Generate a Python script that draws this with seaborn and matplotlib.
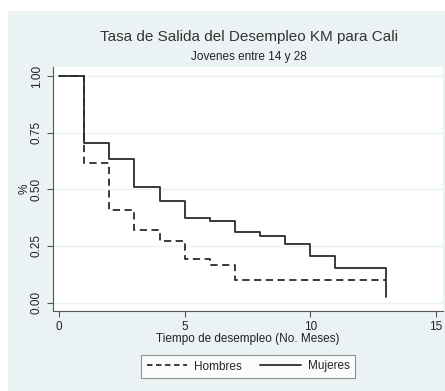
import pandas as pd
import numpy as np
import seaborn as sns
import matplotlib.pyplot as plt
from matplotlib.patches import Rectangle
from matplotlib.lines import Line2D

# Curvas Kaplan-Meier
meses_mujeres = [0, 1, 2, 3, 4, 5, 6, 7, 8, 9, 10, 11, 13]
surv_mujeres = [1.0, 0.703, 0.633, 0.509, 0.45, 0.372, 0.359, 0.31, 0.296, 0.259, 0.207, 0.154, 0.024]
meses_hombres = [0, 1, 2, 3, 4, 5, 6, 7, 13]
surv_hombres = [1.0, 0.615, 0.409, 0.321, 0.272, 0.194, 0.168, 0.101, 0.101]
grupos = ['Hombres', 'Mujeres']
x_ticks = [0, 5, 10, 15]
y_ticks = [0.0, 0.25, 0.5, 0.75, 1.0]

data = pd.concat([
    pd.DataFrame({'mes': meses_hombres, 'surv': surv_hombres, 'sexo': grupos[0]}),
    pd.DataFrame({'mes': meses_mujeres, 'surv': surv_mujeres, 'sexo': grupos[1]}),
])

sns.set_style('white')
plt.rcParams['font.family'] = ['Liberation Sans', 'DejaVu Sans']

bg = '#EAF2F3'
linea = '#2b2b2b'

fig = plt.figure(figsize=(4.45, 3.91), dpi=100)
fig.patch.set_facecolor('white')
fig.patches.append(Rectangle((8 / 445, 0), 1, (391 - 11) / 391,
                             transform=fig.transFigure, facecolor=bg,
                             edgecolor='none', zorder=-10))

ax = fig.add_axes([52.7 / 445, 80 / 391, (443 - 52.7) / 445, (311 - 67) / 391])
ax.set_facecolor('white')

sns.lineplot(data=data, x='mes', y='surv', hue='sexo', style='sexo',
             palette={'Hombres': linea, 'Mujeres': linea},
             dashes={'Hombres': (4, 2.5), 'Mujeres': ''},
             drawstyle='steps-post', linewidth=1.3, legend=False, ax=ax)

ax.set_xlim(-0.25, 15.28)
ax.set_ylim(-0.037, 1.04)
ax.set_xticks(x_ticks)
ax.set_xticklabels([str(t) for t in x_ticks], fontsize=8.5)
ax.set_yticks(y_ticks)
ax.set_yticklabels(['%.2f' % t for t in y_ticks], fontsize=8.5, rotation=90, va='center')
for y in y_ticks:
    ax.axhline(y, color=bg, lw=1.0, zorder=0)

for s in ['top', 'right']:
    ax.spines[s].set_visible(False)
for s in ['left', 'bottom']:
    ax.spines[s].set_color('#555555')
    ax.spines[s].set_linewidth(0.8)
ax.tick_params(axis='both', direction='out', length=4, width=0.8, color='#555555',
               labelcolor='#222222', pad=3)
ax.tick_params(axis='both', which='both', bottom=True, left=True)

ax.set_xlabel('Tiempo de desempleo (No. Meses)', fontsize=8.5, color='#222222', labelpad=0)
ax.set_ylabel('%', fontsize=8.5, color='#222222', labelpad=0)

fig.text(249 / 445, 1 - 37 / 391, 'Tasa de Salida del Desempleo KM para Cali',
         ha='center', va='center', fontsize=11, color='#333333')
fig.text(249 / 445, 1 - 57 / 391, 'Jovenes entre 14 y 28',
         ha='center', va='center', fontsize=8.5, color='#222222')

handles = [Line2D([], [], color=linea, lw=1.3, dashes=(3, 2)),
           Line2D([], [], color=linea, lw=1.3)]
leg = fig.legend(handles, grupos, loc='center', bbox_to_anchor=(248 / 445, 1 - 366.5 / 391),
                 ncol=2, fontsize=8.5, frameon=True, fancybox=False,
                 handlelength=3.4, handletextpad=0.6, columnspacing=1.6, borderpad=0.5)
leg.get_frame().set_edgecolor('#777777')
leg.get_frame().set_linewidth(0.8)
leg.get_frame().set_facecolor('white')

plt.savefig('out.png', dpi=100)
